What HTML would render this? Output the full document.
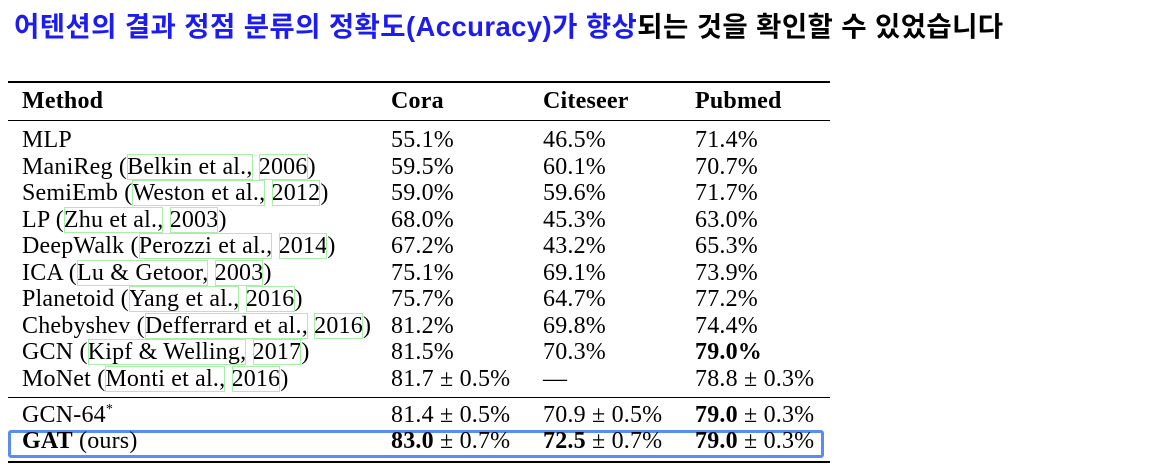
<!DOCTYPE html>
<html><head><meta charset="utf-8">
<style>
body{margin:0;width:1167px;height:472px;background:#fff;position:relative;overflow:hidden}
#title{position:absolute;left:14px;top:4px;font:bold 27.5px "Liberation Sans","Noto Sans CJK KR",sans-serif;white-space:nowrap;letter-spacing:0.4px}
#title .b{color:#1c1cf0}
.rule{position:absolute;left:8px;width:822px;background:#000}
.row{position:absolute;left:0;height:27px;font:24px "Liberation Serif",serif;white-space:nowrap;line-height:27px;letter-spacing:0.2px}
.row span.c{position:absolute}
.c0{left:22px}.c1{left:391px}.c2{left:543px}.c3{left:695px}
.ref{outline:1px solid #a8f0a8;outline-offset:-1px}
#gatbox{position:absolute;left:8px;top:430px;width:810px;height:22px;border:3px solid #5b8cf0;border-radius:3px}
</style></head><body>
<div id="title"><span class="b">어텐션의 결과 정점 분류의 정확도(Accuracy)가 향상</span>되는 것을 확인할 수 있었습니다</div>
<div class="rule" style="top:81px;height:2px"></div>
<div class="rule" style="top:120px;height:1px"></div>
<div class="rule" style="top:397px;height:1px"></div>
<div class="rule" style="top:461px;height:2px"></div>
<div id="gatbox"></div>
<div id="tbl"></div>
<script>
const rows=[
["<b>Method</b>","<b>Cora</b>","<b>Citeseer</b>","<b>Pubmed</b>",88],
["MLP","55.1%","46.5%","71.4%",127],
["ManiReg (<span class='ref'>Belkin et al.,</span> <span class='ref'>2006</span>)","59.5%","60.1%","70.7%",153.5],
["SemiEmb (<span class='ref'>Weston et al.,</span> <span class='ref'>2012</span>)","59.0%","59.6%","71.7%",180],
["LP (<span class='ref'>Zhu et al.,</span> <span class='ref'>2003</span>)","68.0%","45.3%","63.0%",206.5],
["DeepWalk (<span class='ref'>Perozzi et al.,</span> <span class='ref'>2014</span>)","67.2%","43.2%","65.3%",233],
["ICA (<span class='ref'>Lu &amp; Getoor,</span> <span class='ref'>2003</span>)","75.1%","69.1%","73.9%",259.5],
["Planetoid (<span class='ref'>Yang et al.,</span> <span class='ref'>2016</span>)","75.7%","64.7%","77.2%",286],
["Chebyshev (<span class='ref'>Defferrard et al.,</span> <span class='ref'>2016</span>)","81.2%","69.8%","74.4%",312.5],
["GCN (<span class='ref'>Kipf &amp; Welling,</span> <span class='ref'>2017</span>)","81.5%","70.3%","<b>79.0%</b>",339],
["MoNet (<span class='ref'>Monti et al.,</span> <span class='ref'>2016</span>)","81.7 ± 0.5%","—","78.8 ± 0.3%",365.5],
["GCN-64<sup style='font-size:14px;line-height:0'>*</sup>","81.4 ± 0.5%","70.9 ± 0.5%","<b>79.0</b> ± 0.3%",402],
["<b>GAT</b> (ours)","<b>83.0</b> ± 0.7%","<b>72.5</b> ± 0.7%","<b>79.0</b> ± 0.3%",428]
];
const tbl=document.getElementById('tbl');
rows.forEach((r,i)=>{
  const d=document.createElement('div');
  d.className='row';
  d.style.top=r[4]+'px';
  
  
  for(let k=0;k<4;k++){
    const s=document.createElement('span');
    s.className='c c'+k;
    s.innerHTML=r[k];
    
    
    d.appendChild(s);
  }
  tbl.appendChild(d);
});
</script>
</body></html>
